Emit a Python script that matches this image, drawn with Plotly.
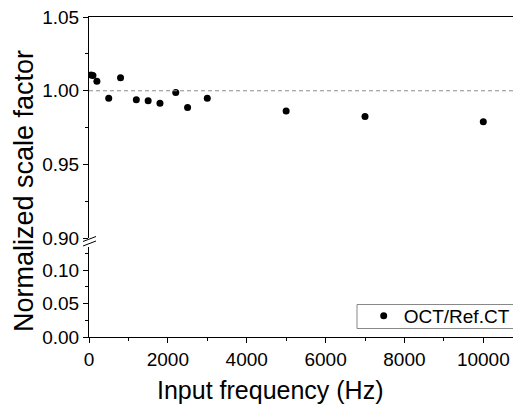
import plotly.graph_objects as go

# Data
freq_hz = [50, 100, 200, 500, 800, 1200, 1500, 1800, 2200, 2500, 3000, 5000, 7000, 10000]
scale_factor = [1.0107, 1.0103, 1.0064, 0.9949, 1.0089, 0.9940, 0.9932, 0.9915,
                0.9988, 0.9886, 0.9949, 0.9863, 0.9826, 0.9790]
series_name = "OCT/Ref.CT"
x_title = "Input frequency (Hz)"
y_title = "Normalized scale factor"

FONT = "Liberation Sans, Arial, sans-serif"
OFF = 8  # page body margin
W, H = 521 - OFF, 409 - OFF
ML, MR, MT, MB = 89 - OFF, 0, 17 - OFF, 72
PW, PH = W - ML - MR, H - MT - MB

def py(pix):  # page pixel y -> paper y
    return (H - MB - (pix - OFF)) / PH

def px(pix):  # page pixel x -> paper x
    return (pix - OFF - ML) / PW

fig = go.Figure()
# upper segment of the broken y axis
fig.add_trace(go.Scatter(
    x=freq_hz, y=scale_factor, mode="markers", name=series_name,
    marker=dict(color="black", size=7), xaxis="x2", yaxis="y2", showlegend=True,
))
# lower segment shares the same data (all values fall above its range)
fig.add_trace(go.Scatter(
    x=freq_hz, y=scale_factor, mode="markers", name=series_name,
    marker=dict(color="black", size=7), xaxis="x", yaxis="y", showlegend=False,
    hoverinfo="skip",
))

axis_common = dict(
    showline=True, linecolor="black", linewidth=1, showgrid=False, zeroline=False,
    ticks="outside", ticklen=5, tickcolor="black", tickwidth=1, automargin=False,
    tickfont=dict(family=FONT, size=19, color="black"), ticklabeloverflow="allow",
)

x_max = (521 - 89) / 0.03943

fig.update_layout(
    width=W, height=H,
    margin=dict(l=ML, r=MR, t=MT, b=MB),
    paper_bgcolor="white", plot_bgcolor="white",
    font=dict(family=FONT, color="black"),
    xaxis=dict(
        **axis_common, range=[0, x_max], dtick=2000, tick0=0, anchor="y",
        tickformat="d",
        minor=dict(dtick=1000, ticks="outside", ticklen=3, tickcolor="black"),
    ),
    xaxis2=dict(
        matches="x", anchor="y2", side="top", showline=True, linecolor="black",
        linewidth=1, ticks="", showticklabels=False, showgrid=False, zeroline=False,
        automargin=False,
    ),
    yaxis=dict(
        **axis_common, domain=[0, py(246.7)], range=[0, 0.135],
        dtick=0.05, tick0=0, tickformat=".2f", anchor="x",
        minor=dict(dtick=0.025, ticks="outside", ticklen=3, tickcolor="black"),
    ),
    yaxis2=dict(
        **axis_common, domain=[py(238.3), 1], range=[0.90, 1.05001],
        dtick=0.05, tick0=0.9, tickformat=".2f", anchor="x2",
        minor=dict(dtick=0.025, ticks="outside", ticklen=3, tickcolor="black"),
    ),
    legend=dict(
        x=px(356.7), y=py(316), xanchor="left", yanchor="middle",
        borderwidth=0, bgcolor="rgba(0,0,0,0)",
        font=dict(family=FONT, size=19, color="black"),
        indentation=7,
    ),
    showlegend=True,
)

# legend frame
fig.add_shape(type="rect", xref="paper", yref="paper",
              x0=px(357), x1=px(516.5), y0=py(328.5), y1=py(304.5),
              line=dict(color="#888888", width=1), fillcolor="rgba(0,0,0,0)", layer="below")
# reference dashed line at 1.00
fig.add_shape(type="line", xref="x2 domain", yref="y2", x0=0, x1=1, y0=1.0, y1=1.0,
              line=dict(color="#8c8c8c", width=1, dash="4px,3px"))

# axis break marks
for yb in (241.5, 246.0):
    fig.add_shape(type="line", xref="paper", yref="paper",
                  x0=px(83), x1=px(96), y0=py(yb), y1=py(yb - 5),
                  line=dict(color="black", width=1))

fig.add_annotation(text=x_title, xref="paper", yref="paper", x=px(270), y=py(390),
                   xanchor="center", yanchor="middle", showarrow=False,
                   font=dict(family=FONT, size=25, color="black"))
fig.add_annotation(text=y_title, xref="paper", yref="paper", x=px(24), y=py(191),
                   xanchor="center", yanchor="middle", showarrow=False, textangle=-90,
                   font=dict(family=FONT, size=27, color="black"))

fig.write_html("out.html")
